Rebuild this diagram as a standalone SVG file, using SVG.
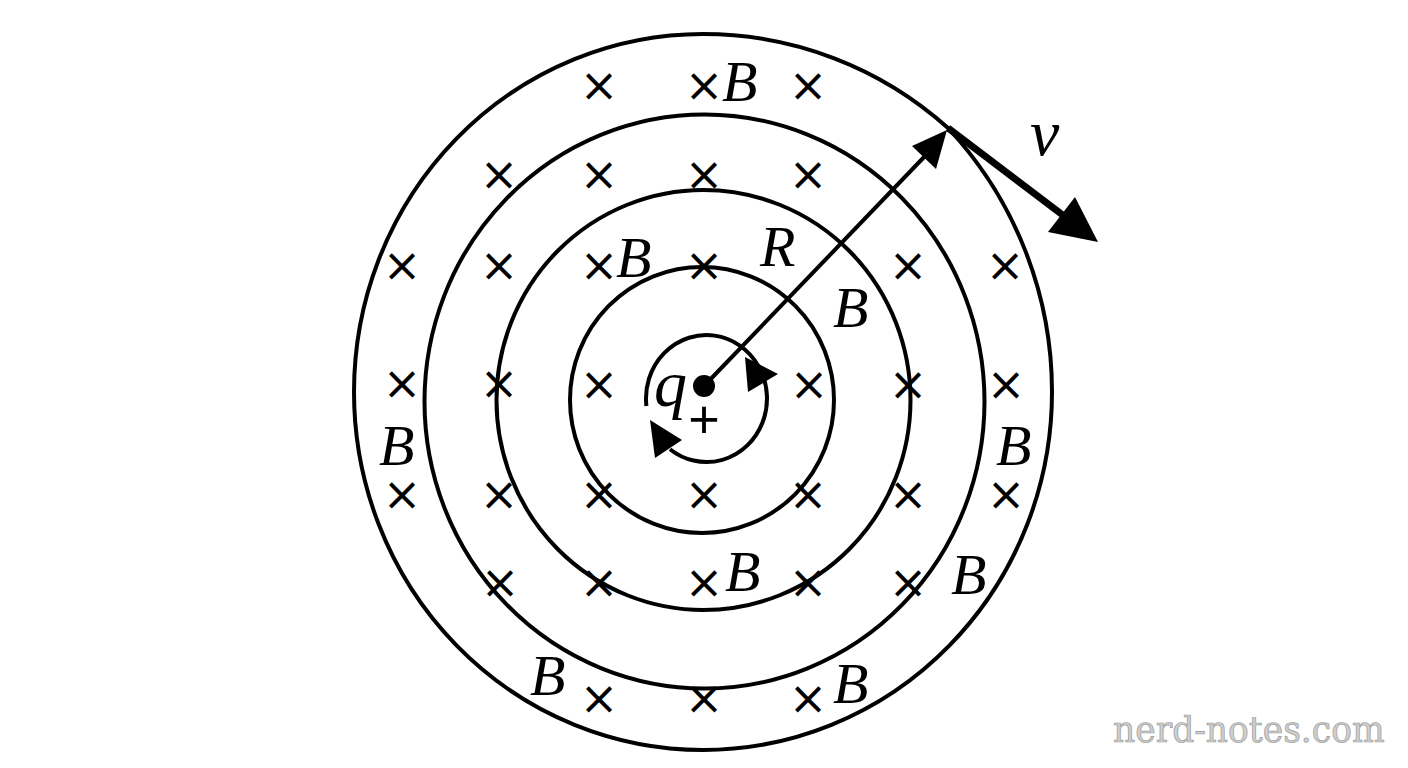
<svg xmlns="http://www.w3.org/2000/svg" width="1408" height="768" viewBox="0 0 1408 768">
<style>
.ring{fill:none;stroke:#000;stroke-width:4}
.x{font-family:"DejaVu Sans","Liberation Sans",sans-serif;font-size:46px;text-anchor:middle;dominant-baseline:central;fill:#000}
.lbl{font-family:"Liberation Serif","Times New Roman",serif;font-style:italic;font-size:58px;fill:#000}
.sm{font-size:66px}
.wm{font-family:"DejaVu Serif",serif;font-size:34.5px;fill:#cfcfcf;stroke:#9a9a9a;stroke-width:0.7}
</style>
<rect width="1408" height="768" fill="#fff"/>
<g id="field-rings">
<path class="ring" d="M354 392 A349 358 0 0 1 703 34 A366 366 0 0 1 948 128 A387 387 0 0 1 1052 392 A349 358 0 0 1 354 392 Z"/>
<ellipse class="ring" cx="704.5" cy="401.5" rx="280" ry="287"/>
<ellipse class="ring" cx="703.5" cy="400" rx="207" ry="210"/>
<ellipse class="ring" cx="702" cy="400" rx="132" ry="133"/>
</g>
<g id="crosses">
<text class="x" x="599" y="85">×</text><text class="x" x="704" y="85">×</text><text class="x" x="808" y="85">×</text>
<text class="x" x="499" y="174">×</text><text class="x" x="599" y="174">×</text><text class="x" x="704" y="174">×</text><text class="x" x="808" y="174">×</text>
<text class="x" x="402" y="265">×</text><text class="x" x="499" y="265">×</text><text class="x" x="599" y="265">×</text><text class="x" x="704" y="265">×</text><text class="x" x="908" y="265">×</text><text class="x" x="1005" y="265">×</text>
<text class="x" x="402" y="383">×</text><text class="x" x="499" y="383">×</text><text class="x" x="599" y="384">×</text><text class="x" x="809" y="384">×</text><text class="x" x="908" y="384">×</text><text class="x" x="1006" y="384">×</text>
<text class="x" x="402" y="494">×</text><text class="x" x="499" y="494">×</text><text class="x" x="599" y="494">×</text><text class="x" x="704" y="494">×</text><text class="x" x="808" y="494">×</text><text class="x" x="908" y="494">×</text><text class="x" x="1006" y="494">×</text>
<text class="x" x="500" y="582">×</text><text class="x" x="599" y="582">×</text><text class="x" x="704" y="582">×</text><text class="x" x="808" y="582">×</text><text class="x" x="908" y="582">×</text>
<text class="x" x="599" y="698">×</text><text class="x" x="704" y="698">×</text><text class="x" x="808" y="698">×</text>
</g>
<g id="labels">
<text class="lbl" x="722" y="101">B</text>
<text class="lbl" x="616" y="277">B</text>
<text class="lbl" x="760" y="266">R</text>
<text class="lbl" x="833" y="327">B</text>
<text class="lbl" x="379" y="465">B</text>
<text class="lbl" x="996" y="465">B</text>
<text class="lbl" x="725" y="591">B</text>
<text class="lbl" x="951" y="594">B</text>
<text class="lbl" x="530" y="695">B</text>
<text class="lbl" x="833" y="703">B</text>
<text class="lbl sm" x="654" y="406">q</text>
<text class="lbl sm" x="1030" y="155">v</text>
<text x="704" y="419" font-family="Liberation Sans,sans-serif" font-size="54" text-anchor="middle" dominant-baseline="central">+</text>
</g>
<g id="charge">
<circle cx="704" cy="386" r="11" fill="#000"/>
</g>
<g id="connectors">
<path d="M646.4 406 A60.5 63.5 0 1 1 670 449.2" fill="none" stroke="#000" stroke-width="4"/>
<polygon points="745,357 778,374 748,392" fill="#000"/>
<polygon points="650,420 655,458 682,440" fill="#000"/>
<line x1="704" y1="386" x2="926" y2="155" stroke="#000" stroke-width="4"/>
<polygon points="947,130 912,146 936,169" fill="#000"/>
<line x1="948" y1="128" x2="1064" y2="216" stroke="#000" stroke-width="7"/>
<polygon points="1098,242 1075,197 1048,232" fill="#000"/>
</g>
<text class="wm" x="1113" y="742">nerd-notes.com</text>
</svg>
